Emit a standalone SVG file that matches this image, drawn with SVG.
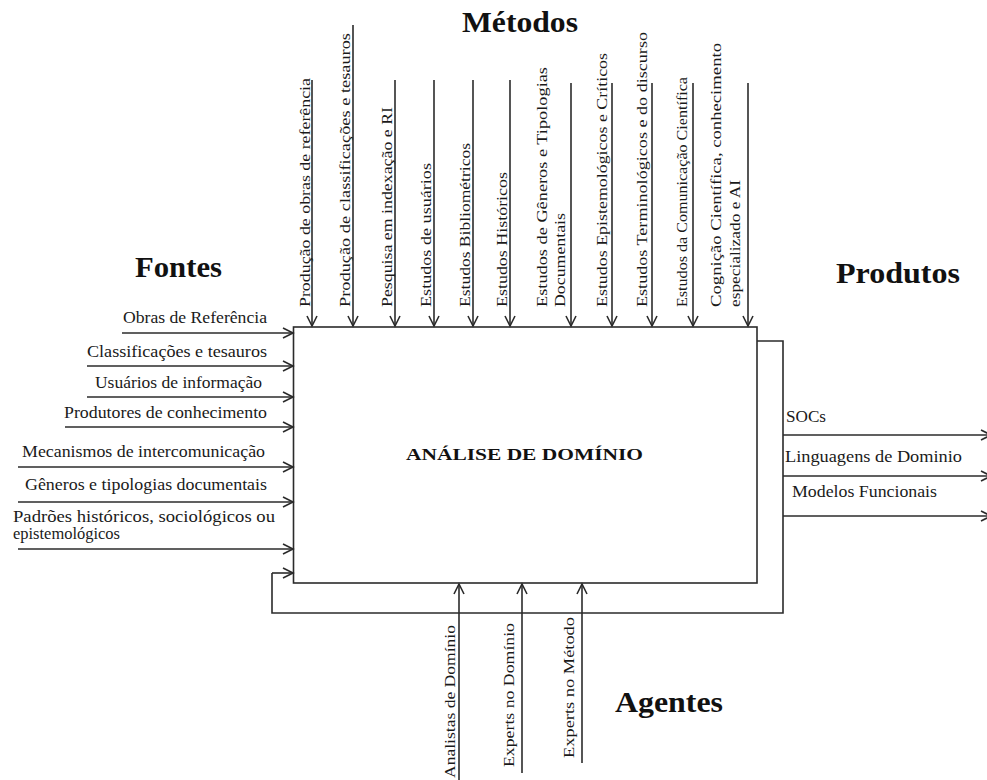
<svg xmlns="http://www.w3.org/2000/svg" width="987" height="780" viewBox="0 0 987 780">
<style>
.ln{stroke:#2b2b2b;stroke-width:1.6;fill:none}
.arr{marker-end:url(#ah)}
.t{font-family:"Liberation Serif","Times New Roman",serif;fill:#1a1a1a;font-size:15px}
.tl{font-family:"Liberation Serif","Times New Roman",serif;fill:#1a1a1a;font-size:16px}
.h{font-family:"Liberation Serif","Times New Roman",serif;fill:#111;font-size:30px;font-weight:bold}
.c{font-family:"Liberation Serif","Times New Roman",serif;fill:#111;font-size:17px;font-weight:bold}
</style>
<defs>
<marker id="ah" markerUnits="userSpaceOnUse" markerWidth="12" markerHeight="12" refX="10" refY="5" orient="auto" overflow="visible">
<path d="M0,0 L10,5 L0,10" fill="none" stroke="#2b2b2b" stroke-width="1.6"/>
</marker>
</defs>
<rect width="987" height="780" fill="#fff"/>

<g id="box">
<rect x="293.5" y="327" width="463.5" height="256" fill="#fff" stroke="#2b2b2b" stroke-width="1.6"/>
<text class="c" x="406" y="460" textLength="237" lengthAdjust="spacingAndGlyphs">ANÁLISE DE DOMÍNIO</text>
</g>

<g id="headers">
<text class="h" x="462" y="32" textLength="116" lengthAdjust="spacingAndGlyphs">Métodos</text>
<text class="h" x="135" y="277" textLength="87" lengthAdjust="spacingAndGlyphs">Fontes</text>
<text class="h" x="836" y="283" textLength="124" lengthAdjust="spacingAndGlyphs">Produtos</text>
<text class="h" x="615" y="712" textLength="108" lengthAdjust="spacingAndGlyphs">Agentes</text>
</g>

<g id="connectors">
<!-- Métodos (top) -->
<line class="ln arr" x1="312" y1="80" x2="312" y2="326"/>
<line class="ln arr" x1="353" y1="25" x2="353" y2="326"/>
<line class="ln arr" x1="395" y1="80" x2="395" y2="326"/>
<line class="ln arr" x1="434" y1="80" x2="434" y2="326"/>
<line class="ln arr" x1="473" y1="80" x2="473" y2="326"/>
<line class="ln arr" x1="510" y1="80" x2="510" y2="326"/>
<line class="ln arr" x1="571" y1="83" x2="571" y2="326"/>
<line class="ln arr" x1="612" y1="83" x2="612" y2="326"/>
<line class="ln arr" x1="652" y1="83" x2="652" y2="326"/>
<line class="ln arr" x1="693" y1="83" x2="693" y2="326"/>
<line class="ln arr" x1="748" y1="83" x2="748" y2="326"/>
<!-- Fontes (left) -->
<line class="ln arr" x1="122" y1="333" x2="293" y2="333"/>
<line class="ln arr" x1="87" y1="366" x2="293" y2="366"/>
<line class="ln arr" x1="87" y1="397" x2="293" y2="397"/>
<line class="ln arr" x1="65" y1="427" x2="293" y2="427"/>
<line class="ln arr" x1="18" y1="467" x2="293" y2="467"/>
<line class="ln arr" x1="18" y1="502" x2="293" y2="502"/>
<line class="ln arr" x1="18" y1="549" x2="293" y2="549"/>
<!-- feedback loop -->
<polyline class="ln" points="757,341 783,341 783,613 272,613 272,573"/>
<line class="ln arr" x1="272" y1="573" x2="293" y2="573"/>
<!-- Produtos (right) -->
<line class="ln arr" x1="783" y1="435" x2="991" y2="435"/>
<line class="ln arr" x1="783" y1="476" x2="991" y2="476"/>
<line class="ln arr" x1="783" y1="516" x2="991" y2="516"/>
<!-- Agentes (bottom) -->
<line class="ln arr" x1="459" y1="780" x2="459" y2="584"/>
<line class="ln arr" x1="522" y1="773" x2="522" y2="584"/>
<line class="ln arr" x1="582" y1="763" x2="582" y2="584"/>
</g>

<g id="metodos-labels">
<g id="m1"><text class="t" transform="translate(310,307) rotate(-90)" textLength="229" lengthAdjust="spacingAndGlyphs">Produção de obras de referência</text></g>
<g id="m2"><text class="t" transform="translate(350,307) rotate(-90)" textLength="274" lengthAdjust="spacingAndGlyphs">Produção de classificações e tesauros</text></g>
<g id="m3"><text class="t" transform="translate(392,307) rotate(-90)" textLength="200" lengthAdjust="spacingAndGlyphs">Pesquisa em indexação e RI</text></g>
<g id="m4"><text class="t" transform="translate(431,307) rotate(-90)" textLength="144" lengthAdjust="spacingAndGlyphs">Estudos de usuários</text></g>
<g id="m5"><text class="t" transform="translate(470,307) rotate(-90)" textLength="164" lengthAdjust="spacingAndGlyphs">Estudos Bibliométricos</text></g>
<g id="m6"><text class="t" transform="translate(507,307) rotate(-90)" textLength="135" lengthAdjust="spacingAndGlyphs">Estudos Históricos</text></g>
<g id="m7">
<text class="t" transform="translate(547,307) rotate(-90)" textLength="240" lengthAdjust="spacingAndGlyphs">Estudos de Gêneros e Tipologias</text>
<text class="t" transform="translate(565,307) rotate(-90)" textLength="94" lengthAdjust="spacingAndGlyphs">Documentais</text>
</g>
<g id="m8"><text class="t" transform="translate(607,307) rotate(-90)" textLength="254" lengthAdjust="spacingAndGlyphs">Estudos Epistemológicos e Críticos</text></g>
<g id="m9"><text class="t" transform="translate(647,307) rotate(-90)" textLength="275" lengthAdjust="spacingAndGlyphs">Estudos Terminológicos e do discurso</text></g>
<g id="m10"><text class="t" transform="translate(687,307) rotate(-90)" textLength="230" lengthAdjust="spacingAndGlyphs">Estudos da Comunicação Científica</text></g>
<g id="m11">
<text class="t" transform="translate(721,307) rotate(-90)" textLength="264" lengthAdjust="spacingAndGlyphs">Cognição Científica, conhecimento</text>
<text class="t" transform="translate(740,307) rotate(-90)" textLength="127" lengthAdjust="spacingAndGlyphs">especializado e AI</text>
</g>
</g>

<g id="fontes-labels">
<g id="f1"><text class="tl" x="123" y="323" textLength="144" lengthAdjust="spacingAndGlyphs">Obras de Referência</text></g>
<g id="f2"><text class="tl" x="87" y="357" textLength="180" lengthAdjust="spacingAndGlyphs">Classificações e tesauros</text></g>
<g id="f3"><text class="tl" x="95" y="388" textLength="167" lengthAdjust="spacingAndGlyphs">Usuários de informação</text></g>
<g id="f4"><text class="tl" x="64" y="418" textLength="203" lengthAdjust="spacingAndGlyphs">Produtores de conhecimento</text></g>
<g id="f5"><text class="tl" x="22" y="457" textLength="243" lengthAdjust="spacingAndGlyphs">Mecanismos de intercomunicação</text></g>
<g id="f6"><text class="tl" x="25" y="490" textLength="242" lengthAdjust="spacingAndGlyphs">Gêneros e tipologias documentais</text></g>
<g id="f7">
<text class="tl" x="13" y="522" textLength="262" lengthAdjust="spacingAndGlyphs">Padrões históricos, sociológicos ou</text>
<text class="tl" x="13" y="539" textLength="107" lengthAdjust="spacingAndGlyphs">epistemológicos</text>
</g>
</g>

<g id="produtos-labels">
<g id="p1"><text class="tl" x="786" y="422" textLength="40" lengthAdjust="spacingAndGlyphs">SOCs</text></g>
<g id="p2"><text class="tl" x="785" y="462" textLength="177" lengthAdjust="spacingAndGlyphs">Linguagens de Dominio</text></g>
<g id="p3"><text class="tl" x="792" y="497" textLength="145" lengthAdjust="spacingAndGlyphs">Modelos Funcionais</text></g>
</g>

<g id="agentes-labels">
<g id="a1"><text class="t" transform="translate(455,778) rotate(-90)" textLength="153" lengthAdjust="spacingAndGlyphs">Analistas de Domínio</text></g>
<g id="a2"><text class="t" transform="translate(514,767) rotate(-90)" textLength="144" lengthAdjust="spacingAndGlyphs">Experts no Domínio</text></g>
<g id="a3"><text class="t" transform="translate(574,758) rotate(-90)" textLength="141" lengthAdjust="spacingAndGlyphs">Experts no Método</text></g>
</g>
</svg>
